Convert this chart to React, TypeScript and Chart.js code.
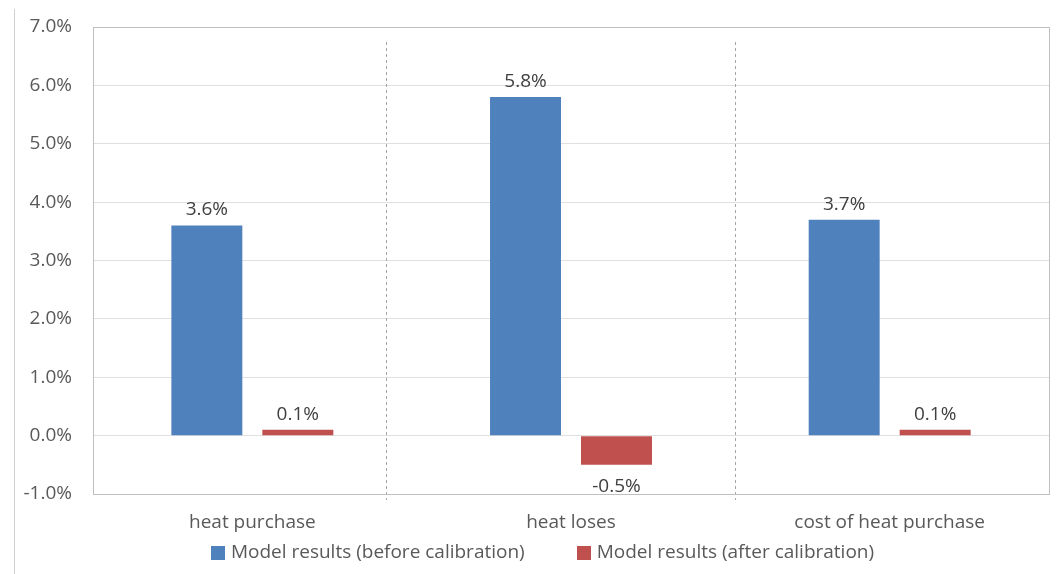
import React, { useEffect, useRef } from "react";
import { Chart, registerables } from "chart.js";

Chart.register(...registerables);

const categories = ["heat purchase", "heat loses", "cost of heat purchase"];
const seriesNames = ["Model results (before calibration)", "Model results (after calibration)"];
const seriesColors = ["#4F81BD", "#C0504D"];
const beforeValues = [3.6, 5.8, 3.7];
const afterValues = [0.1, -0.5, 0.1];
const yTicks = [-1, 0, 1, 2, 3, 4, 5, 6, 7];
const separatorPositions = [0.42, 1.515];

const FONT = "'Open Sans', 'Noto Sans', sans-serif";
const SIZE = 19;
const TEXT = "#595959";

const valueLabelPlugin = {
  id: "valueLabels",
  afterDatasetsDraw(chart: any) {
    const ctx = chart.ctx;
    ctx.save();
    ctx.font = `${SIZE}px ${FONT}`;
    ctx.fillStyle = "#404040";
    ctx.textAlign = "center";
    chart.data.datasets.forEach((ds: any, di: number) => {
      const meta = chart.getDatasetMeta(di);
      meta.data.forEach((bar: any, i: number) => {
        const v = ds.data[i];
        const txt = v.toFixed(1) + "%";
        if (v >= 0) {
          ctx.textBaseline = "bottom";
          ctx.fillText(txt, bar.x, bar.y - 6);
        } else {
          ctx.textBaseline = "top";
          ctx.fillText(txt, bar.x, bar.y + 12);
        }
      });
    });
    ctx.restore();
  },
};

const separatorPlugin = {
  id: "separators",
  afterDraw(chart: any) {
    const ctx = chart.ctx;
    const xs = chart.scales.x;
    const area = chart.chartArea;
    ctx.save();
    ctx.strokeStyle = "#a6a6a6";
    ctx.lineWidth = 1;
    ctx.setLineDash([3, 3]);
    separatorPositions.forEach((p) => {
      const x = Math.round(xs.getPixelForValue(p)) + 0.5;
      ctx.beginPath();
      ctx.moveTo(x, area.top + 15);
      ctx.lineTo(x, area.bottom + 6);
      ctx.stroke();
    });
    ctx.restore();
  },
};

const legendPlugin = {
  id: "customLegend",
  afterDraw(chart: any) {
    const ctx = chart.ctx;
    ctx.save();
    ctx.font = `${SIZE}px ${FONT}`;
    ctx.textBaseline = "middle";
    ctx.textAlign = "left";
    const box = 14;
    const gapBoxText = 6;
    const gapItems = 52;
    const widths = seriesNames.map((n) => ctx.measureText(n).width);
    const total = widths.reduce((a, w) => a + box + gapBoxText + w, 0) + gapItems * (seriesNames.length - 1);
    const cx = chart.width / 2 + 14;
    const cy = chart.height - 21;
    let x = cx - total / 2;
    seriesNames.forEach((n, i) => {
      ctx.fillStyle = seriesColors[i];
      ctx.fillRect(Math.round(x), Math.round(cy - box / 2), box, box);
      ctx.fillStyle = TEXT;
      ctx.fillText(n, x + box + gapBoxText, cy);
      x += box + gapBoxText + widths[i] + gapItems;
    });
    ctx.restore();
  },
};

const framePlugin = {
  id: "frame",
  afterDraw(chart: any) {
    const a = chart.chartArea;
    const ctx = chart.ctx;
    ctx.save();
    ctx.strokeStyle = "#bfbfbf";
    ctx.lineWidth = 1;
    ctx.strokeRect(Math.round(a.left) + 0.5, Math.round(a.top) + 0.5, Math.round(a.right - a.left), Math.round(a.bottom - a.top));
    ctx.restore();
  },
};

export default function App() {
  const ref = useRef<HTMLCanvasElement>(null);
  useEffect(() => {
    if (!ref.current) return;
    const chart = new Chart(ref.current, {
      type: "bar",
      data: {
        labels: categories,
        datasets: [
          {
            label: seriesNames[0],
            data: beforeValues,
            backgroundColor: seriesColors[0],
            borderWidth: 0,
            barPercentage: 0.78,
            categoryPercentage: 0.571,
          },
          {
            label: seriesNames[1],
            data: afterValues,
            backgroundColor: seriesColors[1],
            borderWidth: 0,
            barPercentage: 0.78,
            categoryPercentage: 0.571,
          },
        ],
      },
      options: {
        animation: false,
        responsive: false,
        layout: { padding: { top: 27, right: 8, left: 0, bottom: 36 } },
        plugins: {
          tooltip: { enabled: false },
          legend: { display: false },
        },
        scales: {
          x: {
            grid: { display: false, drawTicks: false },
            border: { display: true, color: "#bfbfbf" },
            ticks: {
              font: { family: FONT, size: SIZE },
              color: TEXT,
              padding: 17,
            },
            afterFit: (s: any) => {
              s.height = 44;
              s.paddingLeft = 0;
              s.paddingRight = 0;
            },
          },
          y: {
            min: -1,
            max: 7,
            afterBuildTicks: (s: any) => {
              s.ticks = yTicks.map((v) => ({ value: v }));
            },
            grid: { color: "#e0e0e0", drawTicks: false },
            border: { display: true, color: "#bfbfbf" },
            ticks: {
              font: { family: FONT, size: SIZE },
              color: TEXT,
              padding: 21,
              callback: (v: any) => Number(v).toFixed(1) + "%",
            },
            afterFit: (s: any) => {
              s.width = 93;
              s.paddingTop = 0;
              s.paddingBottom = 0;
            },
          },
        },
      },
      plugins: [valueLabelPlugin, separatorPlugin, framePlugin, legendPlugin],
    } as any);
    return () => chart.destroy();
  }, []);
  return (
    <div style={{ position: "absolute", left: 0, top: 0, width: 1057, height: 574, background: "#fff" }}>
      <div style={{ position: "absolute", left: 14, top: 9, bottom: 0, borderLeft: "1px solid #d0d0d0" }} />
      <canvas ref={ref} width={1057} height={574} style={{ position: "absolute", left: 0, top: 0 }} />
    </div>
  );
}
